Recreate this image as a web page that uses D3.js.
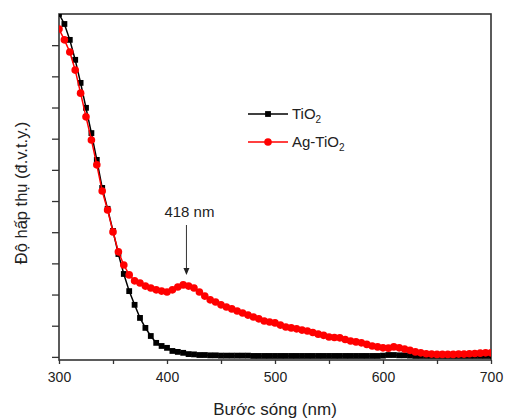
<!DOCTYPE html>
<html>
<head>
<meta charset="utf-8">
<style>
  body { margin: 0; background: #fff; }
  svg { font-family: "Liberation Sans", Arial, sans-serif; }
</style>
</head>
<body>
<svg width="508" height="420"></svg>
<script src="https://cdn.jsdelivr.net/npm/d3@7"></script>
<script>

// wavelengths (nm), every 5 nm
var wavelengths = d3.range(300, 701, 5);

var tio2 = [
  1.100, 1.068, 1.017, 0.953, 0.879, 0.799, 0.718, 0.632, 0.542, 0.475,
  0.404, 0.330, 0.266, 0.211, 0.167, 0.125, 0.093, 0.067, 0.045, 0.035,
  0.029, 0.019, 0.016, 0.013, 0.009, 0.008, 0.006, 0.006, 0.005, 0.005,
  0.004, 0.004, 0.004, 0.004, 0.004, 0.004, 0.003, 0.003, 0.003, 0.003,
  0.003, 0.003, 0.003, 0.003, 0.003, 0.003, 0.003, 0.003, 0.003, 0.003,
  0.003, 0.003, 0.003, 0.003, 0.003, 0.003, 0.003, 0.003, 0.003, 0.003,
  0.004, 0.006, 0.006, 0.005, 0.005, 0.004, 0.003, 0.003, 0.003, 0.003,
  0.003, 0.003, 0.003, 0.003, 0.003, 0.003, 0.003, 0.003, 0.003, 0.003,
  0.003
];

var agTio2 = [
  1.052, 1.017, 0.978, 0.920, 0.846, 0.770, 0.696, 0.616, 0.532, 0.471,
  0.401, 0.337, 0.295, 0.263, 0.244, 0.237, 0.227, 0.221, 0.215, 0.211,
  0.208, 0.215, 0.224, 0.231, 0.227, 0.221, 0.208, 0.195, 0.183, 0.176,
  0.167, 0.160, 0.154, 0.147, 0.141, 0.134, 0.128, 0.122, 0.115, 0.112,
  0.109, 0.102, 0.096, 0.093, 0.090, 0.086, 0.083, 0.078, 0.073, 0.069,
  0.064, 0.062, 0.061, 0.056, 0.051, 0.048, 0.045, 0.040, 0.035, 0.032,
  0.029, 0.028, 0.032, 0.029, 0.025, 0.021, 0.016, 0.013, 0.010, 0.009,
  0.008, 0.008, 0.008, 0.008, 0.009, 0.009, 0.010, 0.011, 0.012, 0.013,
  0.013
];

var xTicks = [300, 350, 400, 450, 500, 550, 600, 650, 700];
var xLabels = [300, 400, 500, 600, 700];
var yTicks = d3.range(0, 1.01, 0.1);

var svg = d3.select("svg"),
    margin = {top: 14, right: 17, bottom: 60, left: 59},
    width = +svg.attr("width") - margin.left - margin.right,
    height = +svg.attr("height") - margin.top - margin.bottom,
    g = svg.append("g").attr("transform", "translate(" + margin.left + "," + margin.top + ")");

var x = d3.scaleLinear().domain([300, 700]).range([0, width]);
var y = d3.scaleLinear().domain([-0.01, 1.1]).range([height, 0]);

var frameColor = "#333";

// plot clip so the curves stay inside the frame
svg.append("defs").append("clipPath").attr("id", "clip")
  .append("rect").attr("width", width).attr("height", height);

// x axis (ticks every 50, labels every 100)
var xAxis = g.append("g")
    .attr("transform", "translate(0," + height + ")")
    .call(d3.axisBottom(x).tickValues(xTicks).tickSize(4)
      .tickFormat(function(d) { return xLabels.indexOf(d) >= 0 ? d : ""; }));
xAxis.select(".domain").remove();
xAxis.selectAll("line").attr("stroke", frameColor).attr("stroke-width", 1.3);
xAxis.selectAll("text")
    .attr("font-family", "Liberation Sans, Arial, sans-serif")
    .attr("font-size", 14).attr("fill", "#222").attr("dy", "1.05em");

// y axis (ticks only)
var yAxis = g.append("g")
    .call(d3.axisLeft(y).tickValues(yTicks).tickSize(7).tickFormat(""));
yAxis.select(".domain").remove();
yAxis.selectAll("line").attr("stroke", frameColor).attr("stroke-width", 1.3);

// frame
g.append("rect")
    .attr("width", width).attr("height", height)
    .attr("fill", "none").attr("stroke", frameColor).attr("stroke-width", 1.6);

var plot = g.append("g").attr("clip-path", "url(#clip)");

function series(vals) {
  return wavelengths.map(function(w, i) { return {w: w, v: vals[i]}; });
}

var line = d3.line()
    .x(function(d) { return x(d.w); })
    .y(function(d) { return y(d.v); });

// TiO2 (black squares)
var s1 = series(tio2);
plot.append("path").datum(s1)
    .attr("fill", "none").attr("stroke", "#000").attr("stroke-width", 1.5)
    .attr("d", line);
plot.selectAll(".sq").data(s1).enter().append("rect")
    .attr("class", "sq")
    .attr("x", function(d) { return x(d.w) - 2.9; })
    .attr("y", function(d) { return y(d.v) - 2.9; })
    .attr("width", 5.8).attr("height", 5.8)
    .attr("fill", "#000");

// Ag-TiO2 (red circles)
var s2 = series(agTio2);
plot.append("path").datum(s2)
    .attr("fill", "none").attr("stroke", "#ff0000").attr("stroke-width", 1.5)
    .attr("d", line);
plot.selectAll(".dot").data(s2).enter().append("circle")
    .attr("class", "dot")
    .attr("cx", function(d) { return x(d.w); })
    .attr("cy", function(d) { return y(d.v); })
    .attr("r", 3.8)
    .attr("fill", "#ff0000");

// annotation 418 nm
var peakW = 418, peakV = 0.231;
g.append("text")
    .attr("x", x(peakW) + 3).attr("y", 203)
    .attr("text-anchor", "middle")
    .attr("font-size", 15).attr("fill", "#222")
    .text("418 nm");
g.append("line")
    .attr("x1", x(peakW)).attr("x2", x(peakW))
    .attr("y1", 211).attr("y2", y(peakV) - 16)
    .attr("stroke", "#333").attr("stroke-width", 1);
g.append("path")
    .attr("d", "M" + (x(peakW) - 3) + "," + (y(peakV) - 17) +
               "L" + (x(peakW) + 3) + "," + (y(peakV) - 17) +
               "L" + x(peakW) + "," + (y(peakV) - 10) + "Z")
    .attr("fill", "#222");

// legend
var legend = svg.append("g").attr("font-size", 15).attr("fill", "#222");
var items = [
  {name: "TiO", color: "#000", shape: "square", y: 114},
  {name: "Ag-TiO", color: "#ff0000", shape: "circle", y: 142}
];
items.forEach(function(it) {
  legend.append("line")
      .attr("x1", 248).attr("x2", 288).attr("y1", it.y).attr("y2", it.y)
      .attr("stroke", it.color).attr("stroke-width", 1.5);
  if (it.shape === "square") {
    legend.append("rect").attr("x", 265.1).attr("y", it.y - 2.9)
        .attr("width", 5.8).attr("height", 5.8).attr("fill", it.color);
  } else {
    legend.append("circle").attr("cx", 268).attr("cy", it.y).attr("r", 3.8)
        .attr("fill", it.color);
  }
  var t = legend.append("text").attr("x", 292).attr("y", it.y + 5).attr("fill", "#222");
  t.append("tspan").text(it.name);
  t.append("tspan").attr("font-size", 10).attr("dy", 4).text("2");
});

// axis titles
svg.append("text")
    .attr("x", margin.left + width / 2).attr("y", 415)
    .attr("text-anchor", "middle")
    .attr("font-size", 17).attr("fill", "#222")
    .text("Bước sóng (nm)");

svg.append("text")
    .attr("transform", "translate(27," + (margin.top + height / 2 + 6) + ") rotate(-90)")
    .attr("text-anchor", "middle")
    .attr("font-size", 16.5).attr("fill", "#222")
    .text("Độ hấp thụ (đ.v.t.y.)");

</script>
</body>
</html>
